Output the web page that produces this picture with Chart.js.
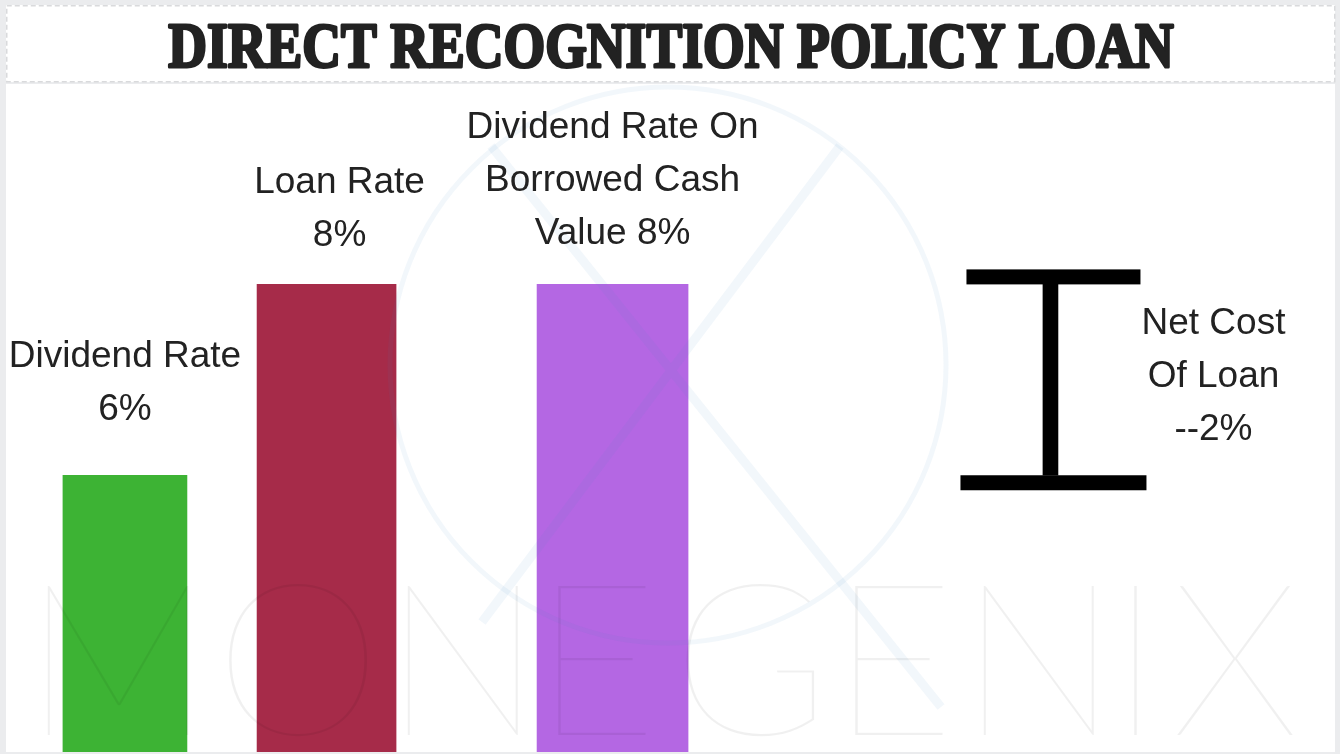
<!DOCTYPE html>
<html>
<head>
<meta charset="utf-8">
<title>Direct Recognition Policy Loan</title>
<script src="https://cdn.jsdelivr.net/npm/chart.js@4.4.1/dist/chart.umd.min.js"></script>
<style>
    html, body { margin: 0; padding: 0; background: #ebecee; overflow: hidden; }
    #wrap { width: 1340px; height: 754px; }
    canvas { display: block; }
</style>
</head>
<body>
<div id="wrap"><canvas id="loanChart" width="1340" height="754"></canvas></div>
<script>
(function () {
    "use strict";

    // ---- data ----
    var chartTitle = "DIRECT RECOGNITION POLICY LOAN";
    var categories = ["Dividend Rate", "Loan Rate", "Dividend Rate On Borrowed Cash Value"];
    var rates = [6, 8, 8];
    var netCostLabel = "Net Cost Of Loan";
    var netCostRange = [6, 8];
    var netCost = -2;
    var watermark = "MONEGENIX";

    // ---- look ----
    var barColors = ["#3db334", "#a62b49", "#b467e3"];
    var slots = [8.95, 24.12, 45.64, 78.59];     // x slot of each column, % of panel width
    var barWidths = [124, 139, 151, 15];
    var labelWrap = [260, 210, 320, 170];
    var labelLift = [55, 38, 40];
    var labelShift = [0, 13, 0];
    var textFont = '37px "Liberation Sans", Arial, sans-serif';
    var lineH = 53;

    function wrapWords(ctx, text, maxWidth) {
        var words = text.split(" ");
        var lines = [];
        var line = "";
        words.forEach(function (w) {
            var test = line ? line + " " + w : w;
            if (line && ctx.measureText(test).width > maxWidth) {
                lines.push(line);
                line = w;
            } else {
                line = test;
            }
        });
        if (line) lines.push(line);
        return lines;
    }

    var datasets = categories.map(function (name, i) {
        return {
            label: name,
            data: [{ x: slots[i], y: rates[i] }],
            backgroundColor: barColors[i],
            barThickness: barWidths[i],
            borderWidth: 0
        };
    });
    datasets.push({
        label: netCostLabel,
        data: [{ x: slots[3], y: netCostRange }],
        backgroundColor: "#000000",
        barThickness: barWidths[3],
        borderWidth: 0
    });

    var decorPlugin = {
        id: "decor",
        beforeDraw: function (chart) {
            var ctx = chart.ctx;
            ctx.save();
            ctx.fillStyle = "#ebecee";
            ctx.fillRect(0, 0, chart.width, chart.height);
            // title box
            ctx.fillStyle = "#ffffff";
            ctx.fillRect(6, 5, 1329, 77);
            ctx.setLineDash([5, 3]);
            ctx.strokeStyle = "#d9dadc";
            ctx.lineWidth = 1.5;
            ctx.strokeRect(6.75, 5.75, 1328, 76);
            ctx.setLineDash([]);
            // panel
            ctx.fillStyle = "#ffffff";
            ctx.fillRect(6, 84, 1329, 668);
            ctx.restore();
        },
        afterDatasetsDraw: function (chart) {
            var ctx = chart.ctx;
            var area = chart.chartArea;
            var i;

            // I-beam caps on the net cost range
            var beam = chart.getDatasetMeta(3).data[0];
            var top = Math.min(beam.y, beam.base);
            var bottom = Math.max(beam.y, beam.base);
            ctx.save();
            ctx.fillStyle = "#000000";
            ctx.fillRect(beam.x + 3 - 87, top - 15, 174, 15);
            ctx.fillRect(beam.x + 3 - 93, bottom, 186, 15);
            ctx.restore();

            // watermark logo
            ctx.save();
            ctx.beginPath();
            ctx.rect(area.left, area.top, area.right - area.left, area.bottom - area.top);
            ctx.clip();
            ctx.strokeStyle = "rgba(60, 130, 200, 0.065)";
            ctx.lineWidth = 5;
            ctx.beginPath();
            ctx.arc(668, 365, 278, 0, Math.PI * 2);
            ctx.stroke();
            ctx.lineWidth = 9;
            ctx.beginPath();
            ctx.moveTo(491, 146);
            ctx.lineTo(941, 707);
            ctx.moveTo(840, 146);
            ctx.lineTo(482, 622);
            ctx.stroke();

            // watermark lettering
            var size = 209;
            ctx.font = "100 " + size + "px Lato, 'Open Sans', sans-serif";
            var capH = ctx.measureText("M").actualBoundingBoxAscent || size * 0.72;
            size = size * 150 / capH;
            ctx.font = "100 " + size + "px Lato, 'Open Sans', sans-serif";
            var chars = watermark.split("");
            var widths = chars.map(function (c) {
                var m = ctx.measureText(c);
                return m.actualBoundingBoxLeft + m.actualBoundingBoxRight;
            });
            var total = widths.reduce(function (a, b) { return a + b; }, 0);
            var gap = (1246 - total) / (chars.length - 1);
            var x = 47;
            ctx.fillStyle = "rgba(0, 0, 0, 0.06)";
            ctx.textBaseline = "alphabetic";
            ctx.textAlign = "left";
            for (i = 0; i < chars.length; i++) {
                var mm = ctx.measureText(chars[i]);
                ctx.fillText(chars[i], x + mm.actualBoundingBoxLeft, 735);
                x += widths[i] + gap;
            }
            ctx.restore();

            // value labels
            ctx.save();
            ctx.font = textFont;
            ctx.fillStyle = "#222222";
            ctx.textAlign = "center";
            ctx.textBaseline = "alphabetic";
            for (i = 0; i < categories.length; i++) {
                var bar = chart.getDatasetMeta(i).data[0];
                var lines = wrapWords(ctx, categories[i] + " " + rates[i] + "%", labelWrap[i]);
                var lastBase = bar.y - labelLift[i];
                lines.forEach(function (ln, k) {
                    ctx.fillText(ln, bar.x + labelShift[i], lastBase - (lines.length - 1 - k) * lineH);
                });
            }
            var netLines = wrapWords(ctx, netCostLabel + " -" + netCost + "%", labelWrap[3]);
            var mid = (top + bottom) / 2;
            netLines.forEach(function (ln, k) {
                ctx.fillText(ln, beam.x + 163, mid + 7 + (k - (netLines.length - 1) / 2) * lineH);
            });
            ctx.restore();

            // title
            ctx.save();
            ctx.font = 'bold 63px "Liberation Serif", "Times New Roman", serif';
            ctx.fillStyle = "#222222";
            ctx.strokeStyle = "#222222";
            ctx.lineWidth = 3;
            ctx.lineJoin = "round";
            ctx.textAlign = "center";
            ctx.textBaseline = "alphabetic";
            var tw = ctx.measureText(chartTitle).width;
            var sx = 1008 / (tw + 3);
            ctx.translate(671, 67);
            ctx.scale(sx, 1);
            ctx.strokeText(chartTitle, 0, 0);
            ctx.fillText(chartTitle, 0, 0);
            ctx.restore();
        }
    };

    new Chart(document.getElementById("loanChart"), {
        type: "bar",
        data: { datasets: datasets },
        options: {
            responsive: false,
            devicePixelRatio: 1,
            animation: false,
            grouped: false,
            layout: { padding: { left: 6, right: 5, top: 84, bottom: 2 } },
            scales: {
                x: { type: "linear", min: 0, max: 100, offset: false, display: false },
                y: { type: "linear", min: 3.1, max: 10.1, display: false }
            },
            plugins: {
                legend: { display: false },
                tooltip: { enabled: false },
                title: { display: false }
            }
        },
        plugins: [decorPlugin]
    });
})();
</script>
</body>
</html>
